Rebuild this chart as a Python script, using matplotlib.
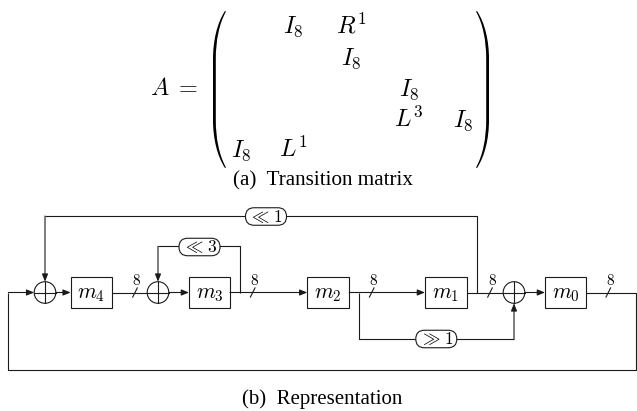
import matplotlib
matplotlib.use('Agg')
import matplotlib.pyplot as plt
from matplotlib.patches import Rectangle, Circle, FancyBboxPatch, PathPatch
from matplotlib.path import Path

plt.rcParams['mathtext.fontset'] = 'cm'
plt.rcParams['font.family'] = 'Liberation Serif'

# matrix content, one list per row
matrix_name = 'A'
matrix_rows = [
    ['', 'I_8', 'R^1', '', ''],
    ['', '', 'I_8', '', ''],
    ['', '', '', 'I_8', ''],
    ['', '', '', 'L^3', 'I_8'],
    ['I_8', 'L^1', '', '', ''],
]
box_labels = ['m_4', 'm_3', 'm_2', 'm_1', 'm_0']
shift_labels = [r'\ll\, 1', r'\ll\, 3', r'\gg\, 1']
bus_width = '8'
captions = ['(a)  Transition matrix', '(b)  Representation']

LW = 0.8
LC = '#1a1a1a'
MAT_SIZE = 17.5
BOX_SIZE = 15.5

fig = plt.figure(figsize=(6.37, 4.11), dpi=100)
ax = fig.add_axes([0, 0, 1, 1])
ax.set_xlim(0, 637)
ax.set_ylim(411, 0)
ax.axis('off')

# ---- (a) matrix ----
col_x = [241, 293, 351, 409, 463]
row_y = [33, 65, 96, 127, 157]
for i, row in enumerate(matrix_rows):
    for j, entry in enumerate(row):
        if entry:
            ax.text(col_x[j], row_y[i], '$' + entry + '$', ha='center', va='baseline', fontsize=MAT_SIZE)
ax.text(198, 95, '$' + matrix_name + r'\;=$', ha='right', va='baseline', fontsize=MAT_SIZE)


def paren(xe, yt, yb, s):
    # s = 1 left paren, s = -1 right paren
    h = 48
    pts = [(12, yt), (4, yt + 12), (0, yt + 30), (0, yt + h),
           (0, yb - h),
           (0, yb - 30), (4, yb - 12), (12, yb),
           (13, yb - 0.5),
           (6, yb - 13), (2.8, yb - 30), (2.8, yb - h),
           (2.8, yt + h),
           (2.8, yt + 30), (6, yt + 13), (13, yt + 0.5),
           (12, yt)]
    verts = [(xe + s * dx, y) for dx, y in pts]
    codes = [Path.MOVETO, Path.CURVE4, Path.CURVE4, Path.CURVE4,
             Path.LINETO,
             Path.CURVE4, Path.CURVE4, Path.CURVE4,
             Path.LINETO,
             Path.CURVE4, Path.CURVE4, Path.CURVE4,
             Path.LINETO,
             Path.CURVE4, Path.CURVE4, Path.CURVE4,
             Path.CLOSEPOLY]
    ax.add_patch(PathPatch(Path(verts, codes), fc='black', ec='none'))


paren(213, 11, 168, 1)
paren(489, 11, 168, -1)

ax.text(323, 185, captions[0], ha='center', va='baseline', fontsize=15.2)

# ---- (b) representation ----
Y = 292.5
R = 10.8


def line(pts):
    xs, ys = zip(*pts)
    ax.plot(xs, ys, color=LC, lw=LW, solid_capstyle='butt', zorder=1)


def arrow(p0, p1):
    ax.annotate('', xy=p1, xytext=p0,
                arrowprops=dict(arrowstyle='-|>,head_length=0.45,head_width=0.18',
                                lw=LW, color=LC, shrinkA=0, shrinkB=0, mutation_scale=10))


def xor(cx):
    ax.add_patch(Circle((cx, Y), R, fc='white', ec=LC, lw=LW, zorder=2))
    ax.plot([cx - R, cx + R], [Y, Y], color=LC, lw=LW, zorder=3)
    ax.plot([cx, cx], [Y - R, Y + R], color=LC, lw=LW, zorder=3)


def box(x0, x1, label):
    ax.add_patch(Rectangle((x0, Y - 15.3), x1 - x0, 30.6, fc='white', ec=LC, lw=LW, zorder=2))
    ax.text((x0 + x1) / 2, Y + 6, '$' + label + '$', ha='center', va='baseline', fontsize=BOX_SIZE, zorder=4)


def pill(cx, cy, label):
    w, h = 41, 17.5
    ax.add_patch(FancyBboxPatch((cx - w / 2, cy - h / 2), w, h,
                                boxstyle='round,pad=0,rounding_size=8.7',
                                fc='white', ec=LC, lw=LW, zorder=2))
    ax.text(cx, cy + 5.2, '$' + label + '$', ha='center', va='baseline', fontsize=12.5, zorder=4)


def slash(x):
    ax.plot([x - 2.3, x + 2.3], [Y + 4.6, Y - 4.6], color=LC, lw=LW, zorder=3)
    ax.text(x + 2, 284.5, '$' + bus_width + '$', ha='center', va='baseline', fontsize=11)


xor_x = [45, 158, 514]
box_x = [(70.7, 111.7), (189, 230), (307.3, 349.3), (425, 466.7), (545, 586)]

# main path
arrow((xor_x[0] + R, Y), (box_x[0][0], Y))
line([(box_x[0][1], Y), (xor_x[1] - R, Y)])
arrow((xor_x[1] + R, Y), (box_x[1][0], Y))
arrow((box_x[1][1], Y), (box_x[2][0], Y))
arrow((box_x[2][1], Y), (box_x[3][0], Y))
line([(box_x[3][1], Y), (xor_x[2] - R, Y)])
arrow((xor_x[2] + R, Y), (box_x[4][0], Y))

# outer return loop
line([(box_x[4][1], Y), (636, Y), (636, 370), (8.3, 370), (8.3, Y)])
arrow((8.3, Y), (xor_x[0] - R, Y))

# shift feedbacks
line([(477, Y), (477, 216), (xor_x[0], 216)])
arrow((xor_x[0], 216), (xor_x[0], Y - R))
pill(266, 216.5, shift_labels[0])

line([(240, Y), (240, 246.3), (xor_x[1], 246.3)])
arrow((xor_x[1], 246.3), (xor_x[1], Y - R))
pill(199.5, 247, shift_labels[1])

line([(359.3, Y), (359.3, 339), (xor_x[2], 339)])
arrow((xor_x[2], 339), (xor_x[2], Y + R))
pill(436.3, 339, shift_labels[2])

for cx in xor_x:
    xor(cx)
for (x0, x1), lab in zip(box_x, box_labels):
    box(x0, x1, lab)
for sx in [135, 252.7, 371.7, 490, 608.3]:
    slash(sx)

ax.text(322.5, 404, captions[1], ha='center', va='baseline', fontsize=15)

plt.savefig('out.png', dpi=100)
